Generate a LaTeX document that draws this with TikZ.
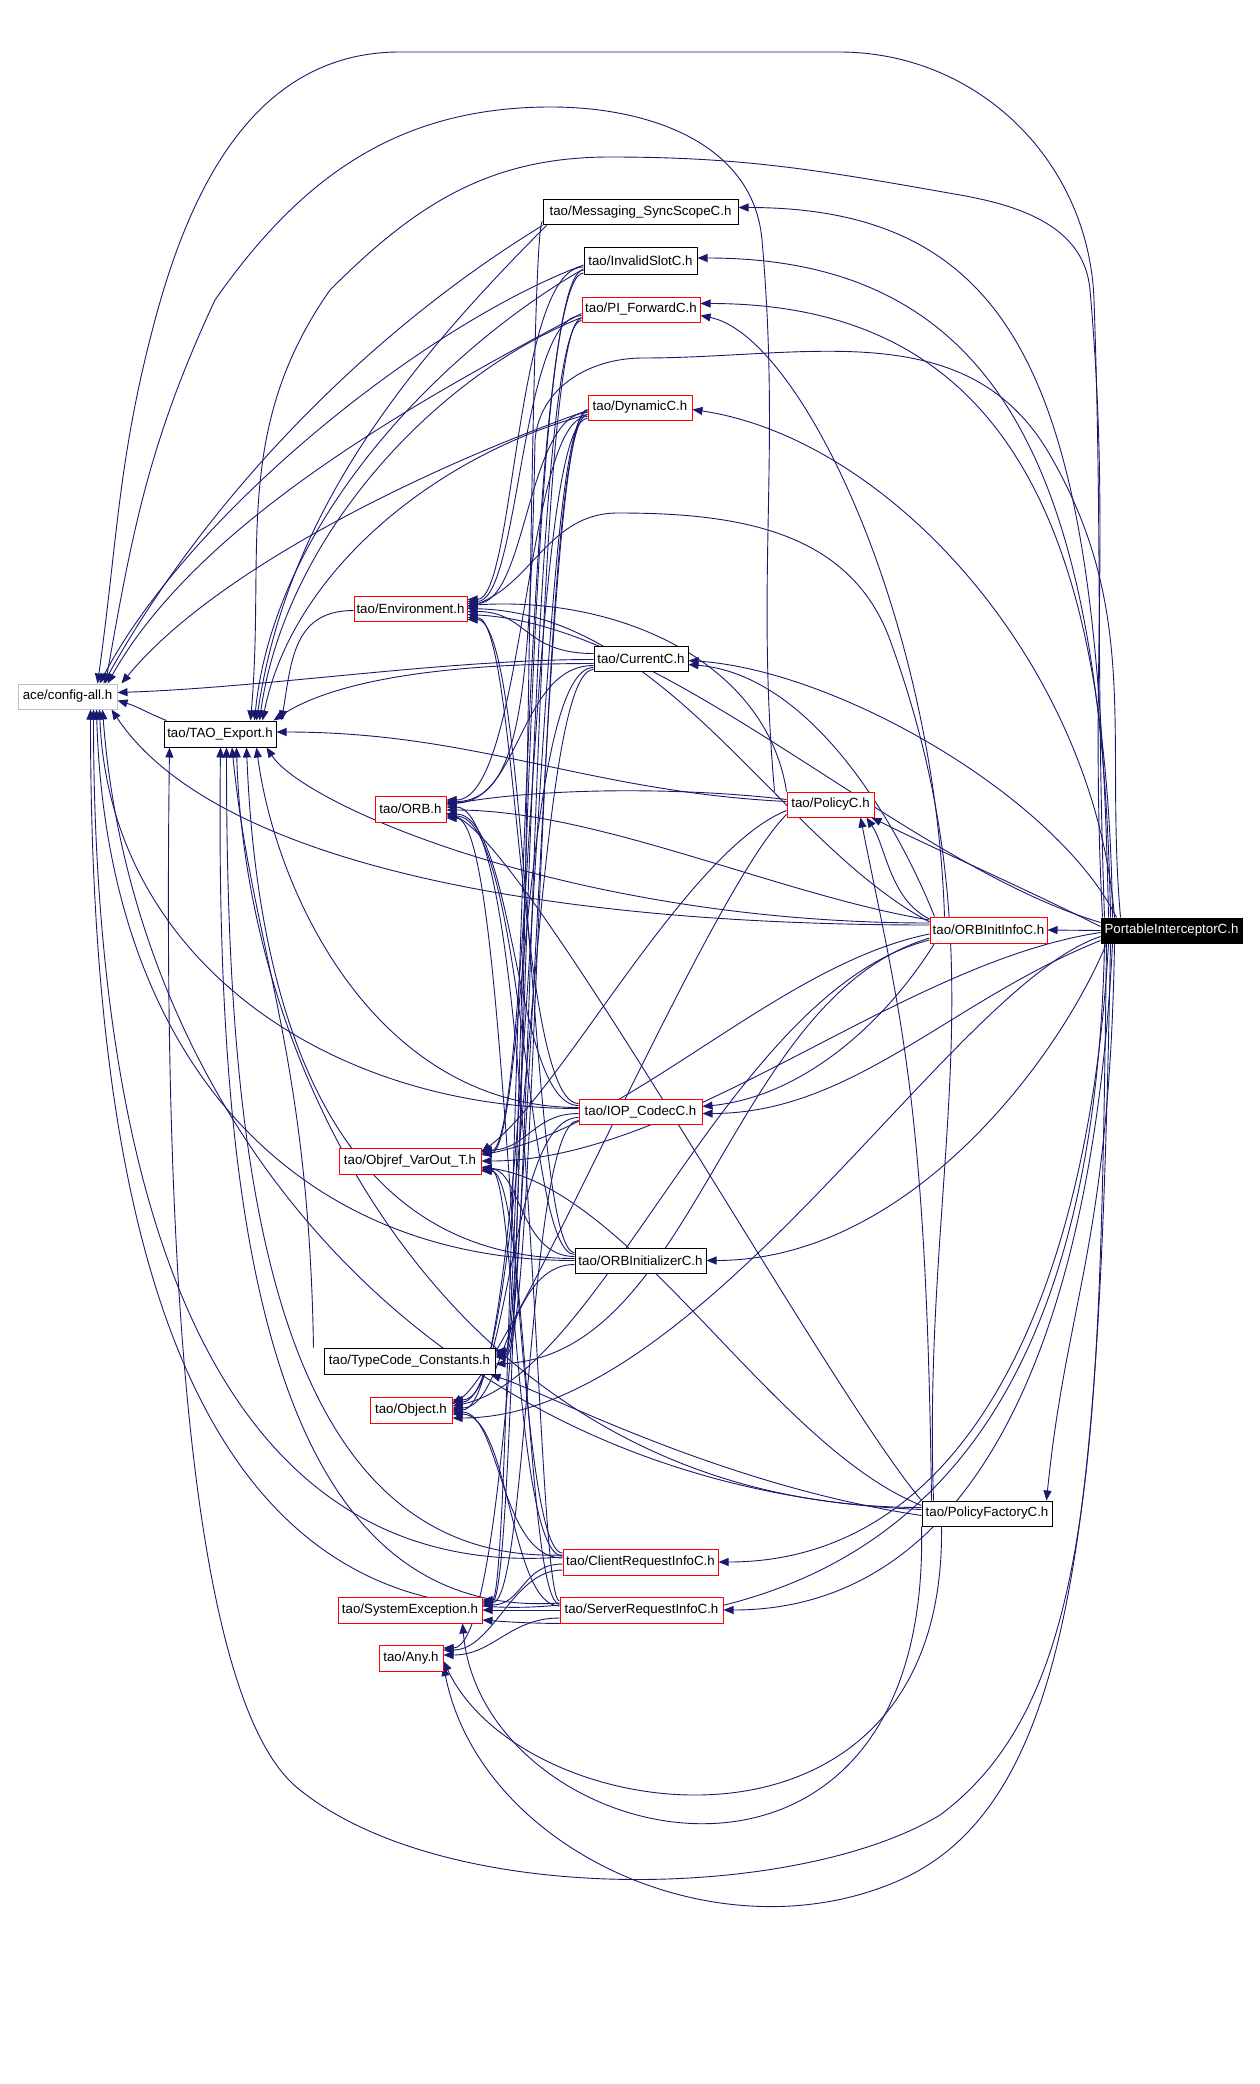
\documentclass[tikz,border=0pt]{standalone}
\usepackage{fontspec}
\setmainfont{Liberation Sans}
\usetikzlibrary{arrows.meta,calc}
\definecolor{navy}{RGB}{25,25,112}
\definecolor{lgray}{RGB}{191,191,191}
\pgfdeclarelayer{bg}
\pgfsetlayers{bg,main}
\newcommand\ec[4]{\draw[ed] (#1) .. controls +#3 and +#4 .. (#2);}
\newcommand\eb[3]{\draw[ed] let \p1=(#1), \p2=(#2) in (\p1) .. controls (#3pt,\y1) and (#3pt,\y2) .. (\p2);}
\begin{document}
\begin{tikzpicture}[x=1pt,y=1pt,
  nd/.style={draw,line width=1pt,inner sep=0pt,fill=white,font=\fontsize{13.3}{15}\selectfont},
  rd/.style={nd,draw=red},
  ed/.style={navy,line width=0.9pt,-{Triangle[length=10pt,width=8pt]}}]
\useasboundingbox (0,0) rectangle (1259,-2084);
% nodes
\node[nd,draw=lgray,minimum width=99pt,minimum height=25pt] (config) at (67.5,-696.5) {ace/config-all.h};
\node[nd,minimum width=112pt,minimum height=26pt] (export) at (220,-734) {tao/TAO\_Export.h};
\node[nd,minimum width=195pt,minimum height=25pt] (msync) at (640.5,-212.5) {tao/Messaging\_SyncScopeC.h};
\node[nd,minimum width=113pt,minimum height=26pt] (invslot) at (640.5,-261) {tao/InvalidSlotC.h};
\node[rd,minimum width=118pt,minimum height=25pt] (piforward) at (641,-309.5) {tao/PI\_ForwardC.h};
\node[rd,minimum width=104pt,minimum height=25pt] (dynamic) at (640,-407.5) {tao/DynamicC.h};
\node[rd,minimum width=113pt,minimum height=25pt] (env) at (410.5,-608.5) {tao/Environment.h};
\node[nd,minimum width=94pt,minimum height=25pt] (current) at (641,-658.5) {tao/CurrentC.h};
\node[rd,minimum width=71pt,minimum height=26pt] (orb) at (410.5,-809) {tao/ORB.h};
\node[rd,minimum width=87pt,minimum height=25pt] (policy) at (830.5,-804.5) {tao/PolicyC.h};
\node[rd,minimum width=117pt,minimum height=26pt] (orbinit) at (988.5,-930) {tao/ORBInitInfoC.h};
\node[nd,fill=black,text=white,minimum width=141pt,minimum height=25pt] (pic) at (1171.5,-930.5) {PortableInterceptorC.h};
\node[rd,minimum width=123pt,minimum height=25pt] (iop) at (640.5,-1111.5) {tao/IOP\_CodecC.h};
\node[rd,minimum width=142pt,minimum height=26pt] (objref) at (410,-1161) {tao/Objref\_VarOut\_T.h};
\node[nd,minimum width=131pt,minimum height=25pt] (orbinitializer) at (640.5,-1260.5) {tao/ORBInitializerC.h};
\node[nd,minimum width=171pt,minimum height=26pt] (typecode) at (409.5,-1361) {tao/TypeCode\_Constants.h};
\node[rd,minimum width=82pt,minimum height=26pt] (object) at (411,-1410) {tao/Object.h};
\node[nd,minimum width=130pt,minimum height=25pt] (policyfactory) at (987,-1513.5) {tao/PolicyFactoryC.h};
\node[rd,minimum width=155pt,minimum height=26pt] (clientreq) at (640.5,-1562) {tao/ClientRequestInfoC.h};
\node[rd,minimum width=144pt,minimum height=26pt] (sysexc) at (410,-1610) {tao/SystemException.h};
\node[rd,minimum width=163pt,minimum height=26pt] (serverreq) at (641.5,-1610) {tao/ServerRequestInfoC.h};
\node[rd,minimum width=64pt,minimum height=26pt] (any) at (411,-1658) {tao/Any.h};
\begin{pgfonlayer}{bg}
\fill[white] (0,0) rectangle (1259,-2084);
% ---- to config
\ec{[xshift=3pt]export.north west}{[yshift=-4pt]config.east}{(-20,8)}{(20,-6)}
\ec{[yshift=-1pt]current.west}{[yshift=4pt]config.east}{(-150,0)}{(150,5)}
\ec{msync.south west}{[xshift=-14pt]config.north east}{(-180,-110)}{(100,180)}
\ec{[yshift=-4pt]invslot.west}{[xshift=-18pt]config.north east}{(-160,-60)}{(90,170)}
\ec{[yshift=-4pt]piforward.west}{[xshift=-10pt]config.north east}{(-170,-90)}{(90,160)}
\ec{[yshift=-3pt]dynamic.west}{[xshift=4pt]config.north east}{(-170,-60)}{(90,110)}
\ec{[yshift=5pt]orbinit.west}{[xshift=-6pt]config.south east}{(-400,0)}{(100,-150)}
\ec{[yshift=3pt]iop.west}{[xshift=-18pt]config.south east}{(-250,0)}{(10,-250)}
\ec{orbinitializer.west}{[xshift=-21pt]config.south east}{(-280,0)}{(10,-350)}
\ec{[yshift=5pt]clientreq.west}{[xshift=-24pt]config.south east}{(-390,-30)}{(0,-400)}
\ec{[yshift=5pt]serverreq.west}{[xshift=-27pt]config.south east}{(-400,-40)}{(0,-450)}
\ec{[yshift=4pt]policyfactory.west}{[xshift=-15pt]config.south east}{(-500,20)}{(30,-400)}
\draw[ed] ([xshift=4pt]pic.north west) to[out=92,in=-88] (1094,-300) to[out=92,in=0] (839,-52) -- (400,-52) to[out=180,in=75] (155,-320) to[out=-105,in=82] ([xshift=-20pt]config.north east);
\draw[ed] ([xshift=-12pt]policy.north west) to[out=95,in=-85] (762,-240) to[out=95,in=0] (551,-107) to[out=180,in=55] (215,-300) to[out=-115,in=80] ([xshift=-12pt]config.north east);
% ---- to export
\ec{[yshift=-2pt]env.west}{[xshift=5pt]export.north east}{(-60,0)}{(10,60)}
\ec{[xshift=4pt]msync.south west}{[xshift=-20pt]export.north east}{(-150,-150)}{(30,200)}
\ec{[yshift=-8pt]invslot.west}{[xshift=-22pt]export.north east}{(-140,-80)}{(20,200)}
\ec{[yshift=-8pt]piforward.west}{[xshift=-17pt]export.north east}{(-150,-60)}{(25,180)}
\ec{[yshift=-7pt]dynamic.west}{[xshift=-14pt]export.north east}{(-150,-40)}{(30,150)}
\ec{[yshift=-5pt]current.west}{[xshift=-3pt]export.north east}{(-150,0)}{(60,40)}
\ec{[yshift=3pt]policy.west}{[yshift=2pt]export.east}{(-200,10)}{(200,0)}
\ec{[xshift=-10pt]typecode.north west}{[xshift=12pt]export.south}{(-5,300)}{(20,-200)}
\ec{[yshift=7pt]orbinit.west}{[xshift=-10pt]export.south east}{(-350,0)}{(40,-60)}
\ec{[yshift=4pt]iop.west}{[xshift=-20pt]export.south east}{(-200,0)}{(20,-150)}
\ec{[yshift=2pt]orbinitializer.west}{[xshift=-30pt]export.south east}{(-250,0)}{(10,-250)}
\ec{[yshift=7pt]clientreq.west}{[xshift=-50pt]export.south east}{(-300,-10)}{(0,-400)}
\ec{[yshift=7pt]serverreq.west}{[xshift=-56pt]export.south east}{(-300,-20)}{(-5,-450)}
\ec{[yshift=6pt]policyfactory.west}{[xshift=-40pt]export.south east}{(-450,0)}{(10,-350)}
\draw[ed] ([xshift=2pt]pic.north west) to[out=93,in=-85] (1090,-290) to[out=95,in=-10] (960,-195) to[out=170,in=0] (610,-157) to[out=180,in=45] (330,-290) to[out=-125,in=85] ([xshift=-26pt]export.north east);
\draw[ed] ([xshift=6pt]pic.south west) .. controls (1100,-1450) and (1095,-1700) .. (940,-1815) .. controls (800,-1900) and (450,-1910) .. (300,-1790) .. controls (170,-1690) and (165,-1100) .. ([xshift=6pt]export.south west);
% ---- to env
\eb{[yshift=-6pt]invslot.west}{[yshift=9pt]env.east}{515}
\eb{[yshift=-6pt]piforward.west}{[yshift=7pt]env.east}{520}
\eb{[yshift=-5pt]dynamic.west}{[yshift=5pt]env.east}{527}
\ec{[yshift=5pt]current.west}{[yshift=-3pt]env.east}{(-70,0)}{(60,0)}
\ec{policy.north west}{[yshift=3pt]env.east}{(-20,130)}{(150,10)}
\ec{[yshift=8pt]orbinit.west}{env.east}{(-150,80)}{(200,-5)}
\ec{[yshift=8pt]pic.west}{[yshift=-6pt]env.east}{(-200,60)}{(200,-10)}
\eb{[yshift=8pt]iop.west}{[yshift=-9pt]env.east}{518}
\eb{[yshift=8pt]orbinitializer.west}{[yshift=-11pt]env.east}{530}
\draw[ed] ([xshift=12pt]policyfactory.north west) to[out=92,in=-70] (890,-640) to[out=110,in=0] (618,-513) to[out=180,in=20] ([yshift=1pt]env.east);
% ---- to orb
\eb{[yshift=-9pt]dynamic.west}{[yshift=9pt]orb.east}{525}
\eb{[yshift=-7pt]current.west}{[yshift=6pt]orb.east}{520}
\ec{[yshift=5pt]policy.west}{[yshift=4pt]orb.east}{(-100,12)}{(100,18)}
\ec{[yshift=10pt]orbinit.west}{[yshift=-1pt]orb.east}{(-150,25)}{(150,0)}
\eb{[yshift=6pt]iop.west}{[yshift=-5pt]orb.east}{515}
\eb{[yshift=6pt]orbinitializer.west}{[yshift=-7pt]orb.east}{525}
\eb{[yshift=9pt]clientreq.west}{[yshift=-9pt]orb.east}{510}
\ec{policyfactory.north west}{[yshift=-4pt]orb.east}{(-100,120)}{(80,-30)}
\eb{[yshift=9pt]serverreq.west}{[yshift=2pt]orb.east}{535}
\draw[ed] ([xshift=20pt]pic.north west) to[out=95,in=-60] (1050,-455) to[out=120,in=0] (643,-358) to[out=180,in=85] (535,-440) .. controls (530,-700) and (520,-800) .. ([yshift=7pt]orb.east);
% ---- to objref
\eb{[yshift=-11pt]dynamic.west}{[yshift=10pt]objref.east}{530}
\eb{[yshift=-9pt]current.west}{[yshift=8pt]objref.east}{524}
\ec{[yshift=-6pt]policy.west}{[yshift=9pt]objref.east}{(-100,-40)}{(80,60)}
\ec{[yshift=-4pt]orbinit.west}{[yshift=6pt]objref.east}{(-150,-30)}{(150,30)}
\ec{[yshift=-2pt]iop.west}{[yshift=11pt]objref.east}{(-45,0)}{(45,0)}
\eb{[yshift=4pt]orbinitializer.west}{[yshift=-8pt]objref.east}{520}
\eb{[yshift=6pt]clientreq.west}{[yshift=-9pt]objref.east}{515}
\eb{[yshift=6pt]serverreq.west}{[yshift=-10pt]objref.east}{527}
\ec{[yshift=-2pt]pic.west}{objref.east}{(-200,-30)}{(200,0)}
\ec{[yshift=8pt]policyfactory.west}{[yshift=-6pt]objref.east}{(-150,60)}{(150,-20)}
% ---- to typecode
\eb{[yshift=-9pt]msync.west}{[yshift=10pt]typecode.east}{528}
\eb{[yshift=-9pt]invslot.west}{[yshift=8pt]typecode.east}{522}
\eb{[yshift=-9pt]piforward.west}{[yshift=6pt]typecode.east}{532}
\eb{[yshift=-7pt]dynamic.west}{[yshift=4pt]typecode.east}{538}
\ec{[yshift=-8pt]orbinit.west}{[yshift=-3pt]typecode.east}{(-200,-60)}{(200,10)}
\ec{[yshift=-2pt]policyfactory.west}{[xshift=-5pt]typecode.south east}{(-200,30)}{(60,-20)}
% ---- to object
\eb{[yshift=-11pt]current.west}{[yshift=8pt]object.east}{530}
\ec{[yshift=-10pt]policy.west}{[yshift=6pt]object.east}{(-80,-80)}{(60,40)}
\ec{[yshift=-10pt]orbinit.west}{[yshift=4pt]object.east}{(-200,-50)}{(150,30)}
\eb{[yshift=-6pt]iop.west}{[yshift=10pt]object.east}{510}
\eb{[yshift=-4pt]orbinitializer.west}{[yshift=2pt]object.east}{505}
\eb{[yshift=4pt]clientreq.west}{[yshift=-2pt]object.east}{500}
\eb{[yshift=4pt]serverreq.west}{[yshift=-4pt]object.east}{510}
\ec{[yshift=-6pt]pic.west}{[yshift=-8pt]object.east}{(-150,-50)}{(250,0)}
\eb{[yshift=-4pt]dynamic.west}{object.east}{535}
% ---- to sysexc
\eb{[yshift=-12pt]invslot.west}{[yshift=10pt]sysexc.east}{515}
\eb{[yshift=-11pt]piforward.west}{[yshift=8pt]sysexc.east}{522}
\eb{[yshift=-9pt]iop.west}{[yshift=7pt]sysexc.east}{528}
\ec{[yshift=-2pt]clientreq.west}{[yshift=5pt]sysexc.east}{(-40,0)}{(40,0)}
\ec{serverreq.west}{sysexc.east}{(-30,0)}{(30,0)}
\ec{[xshift=4pt]pic.south west}{[yshift=-10pt]sysexc.east}{(-10,-500)}{(400,-30)}
\ec{policyfactory.south west}{[xshift=-20pt]sysexc.south east}{(10,-430)}{(20,-230)}
% ---- to any
\ec{[yshift=-8pt]clientreq.west}{[yshift=8pt]any.east}{(-50,0)}{(50,0)}
\ec{[yshift=-8pt]serverreq.west}{[yshift=3pt]any.east}{(-50,0)}{(50,0)}
\eb{[yshift=-2pt]dynamic.west}{[yshift=10pt]any.east}{535}
\draw[ed] ([xshift=10pt]pic.south west) .. controls (1100,-1500) and (1080,-1800) .. (900,-1880) .. controls (720,-1960) and (480,-1850) .. ([yshift=-8pt]any.east);
\ec{[xshift=20pt]policyfactory.south west}{[yshift=-3pt]any.east}{(5,-360)}{(80,-170)}
% ---- rank 3 heads
\ec{[xshift=8pt]pic.north west}{[yshift=5pt]msync.east}{(-10,500)}{(300,0)}
\ec{[xshift=10pt]pic.north west}{[yshift=3pt]invslot.east}{(-8,450)}{(300,0)}
\ec{[xshift=12pt]pic.north west}{[yshift=6pt]piforward.east}{(-5,400)}{(300,0)}
\ec{[xshift=14pt]pic.north west}{[yshift=-2pt]dynamic.east}{(-20,250)}{(200,-30)}
\ec{[xshift=16pt]pic.north west}{[yshift=-2pt]current.east}{(-60,120)}{(150,-10)}
\ec{[yshift=-10pt]pic.west}{[yshift=-2pt]iop.east}{(-150,-60)}{(150,0)}
\ec{[xshift=6pt]pic.south west}{orbinitializer.east}{(-50,-120)}{(200,0)}
\ec{[xshift=8pt]pic.south west}{clientreq.east}{(-20,-350)}{(250,0)}
\ec{[xshift=12pt]pic.south west}{serverreq.east}{(-20,-400)}{(250,0)}
\draw[ed] (pic.west) -- (orbinit.east);
\ec{[xshift=14pt]pic.south west}{[xshift=-6pt]policyfactory.north east}{(-5,-300)}{(20,200)}
\ec{[yshift=4pt]pic.west}{[xshift=-3pt]policy.south east}{(-80,40)}{(60,-30)}
\ec{[xshift=15pt]orbinit.north west}{[yshift=-6pt]piforward.east}{(-10,300)}{(100,-20)}
\ec{[xshift=5pt]orbinit.south west}{[yshift=5pt]iop.east}{(-50,-80)}{(100,10)}
\ec{[xshift=5pt]orbinit.north west}{[yshift=-6pt]current.east}{(-40,100)}{(120,-10)}
\ec{[yshift=11pt]orbinit.west}{[xshift=-8pt]policy.south east}{(-40,20)}{(20,-30)}
\ec{[xshift=10pt]policyfactory.north west}{[xshift=-14pt]policy.south east}{(-5,400)}{(40,-200)}
\end{pgfonlayer}
\end{tikzpicture}
\end{document}
